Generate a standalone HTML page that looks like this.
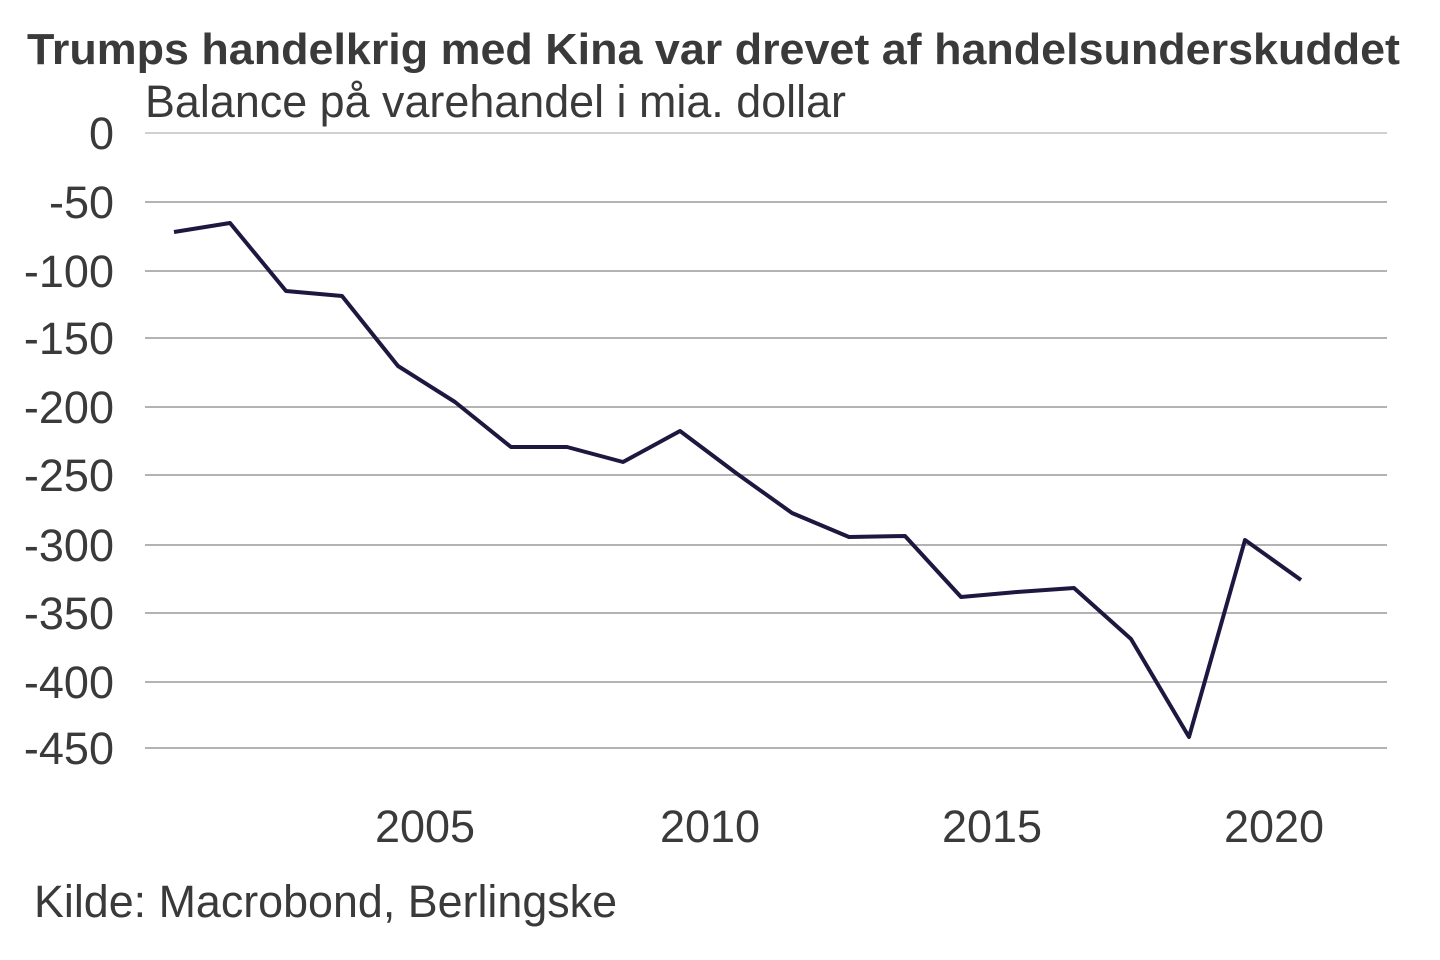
<!DOCTYPE html>
<html><head><meta charset="utf-8"><style>
html,body{margin:0;padding:0;background:#fff;}
svg{display:block;}
</style></head><body>
<svg width="1440" height="960" xmlns="http://www.w3.org/2000/svg" font-family="Liberation Sans, Arial, sans-serif" fill="#3a3a3a">
<text x="27" y="64" font-size="44" font-weight="bold" textLength="1373" lengthAdjust="spacingAndGlyphs">Trumps handelkrig med Kina var drevet af handelsunderskuddet</text>
<text x="145" y="117" font-size="45" textLength="701" lengthAdjust="spacingAndGlyphs">Balance på varehandel i mia. dollar</text>
<g stroke="#9a9a9a" stroke-width="1.5">
<line x1="145" x2="1387" y1="133" y2="133" stroke="#c0c0c0"/>
<line x1="145" x2="1387" y1="202" y2="202"/>
<line x1="145" x2="1387" y1="271" y2="271"/>
<line x1="145" x2="1387" y1="338" y2="338"/>
<line x1="145" x2="1387" y1="407" y2="407"/>
<line x1="145" x2="1387" y1="475" y2="475"/>
<line x1="145" x2="1387" y1="545" y2="545"/>
<line x1="145" x2="1387" y1="613" y2="613"/>
<line x1="145" x2="1387" y1="682" y2="682"/>
<line x1="145" x2="1387" y1="748" y2="748"/>
</g>
<g font-size="45" text-anchor="end">
<text x="114" y="149">0</text>
<text x="114" y="218">-50</text>
<text x="114" y="287">-100</text>
<text x="114" y="354">-150</text>
<text x="114" y="423">-200</text>
<text x="114" y="491">-250</text>
<text x="114" y="561">-300</text>
<text x="114" y="629">-350</text>
<text x="114" y="698">-400</text>
<text x="114" y="764">-450</text>
</g>
<g font-size="45" text-anchor="middle">
<text x="425" y="842">2005</text>
<text x="710" y="842">2010</text>
<text x="992" y="842">2015</text>
<text x="1274" y="842">2020</text>
</g>
<polyline fill="none" stroke="#1c1840" stroke-width="4" stroke-linejoin="round" points="174,232 230,223 286,291 342,296 398,366 455,402 511,447 567,447 623,462 680,431 736,473 792,513 849,537 905,536 961,597 1017,592 1074,588 1131,639 1189,737 1245,540 1301,580"/>
<text x="34" y="917" font-size="45" textLength="583" lengthAdjust="spacingAndGlyphs">Kilde: Macrobond, Berlingske</text>
</svg>
</body></html>
